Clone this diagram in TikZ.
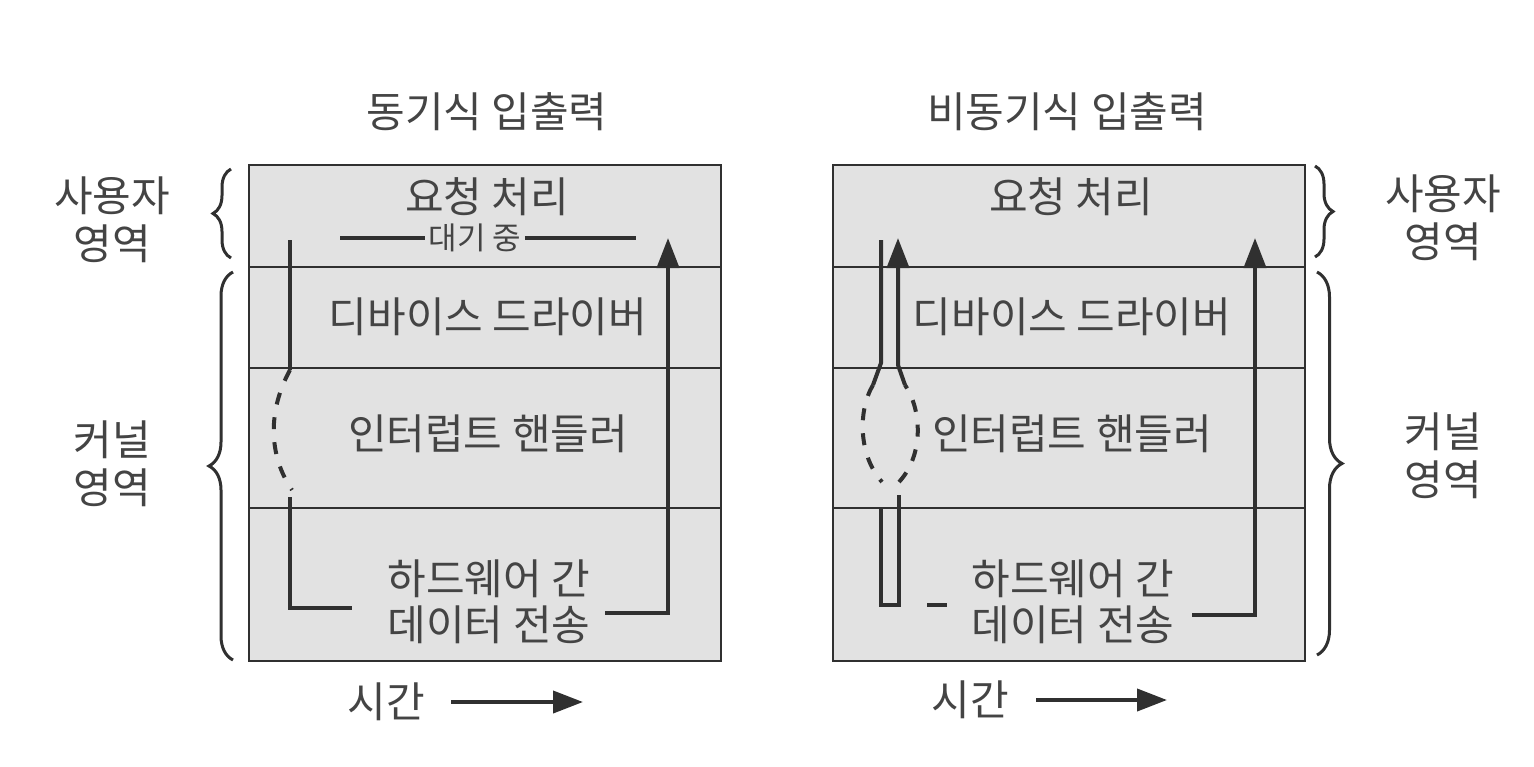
\documentclass[tikz,border=0pt]{standalone}
\usepackage{fontspec}
\setmainfont{Noto Sans CJK KR}
\usetikzlibrary{arrows.meta,positioning,decorations.pathreplacing}
\definecolor{layerfill}{HTML}{E2E2E2}
\definecolor{inkgray}{HTML}{303030}
\definecolor{textgray}{HTML}{444444}

\tikzset{
  flow/.style={line width=4pt,draw=inkgray},
  flowdash/.style={flow,dash pattern=on 12pt off 13pt},
  bigtip/.style={-{Triangle[length=30pt,width=22pt]}},
  regionbrace/.style={decorate,decoration={brace,amplitude=#1},line width=3pt,draw=inkgray},
  layertxt/.style={font=\fontsize{42}{48}\selectfont,text=textgray},
  smalltxt/.style={font=\fontsize{31}{32}\selectfont,text=textgray},
}

\begin{document}
\begin{tikzpicture}[x=1pt,y=-1pt]
  \useasboundingbox (0,0) rectangle (1534,766);

  % the two stacks of layers
  \foreach \x/\n in {249/s,833/a} {
    \draw[fill=layerfill,draw=inkgray,line width=2pt] (\x,165) rectangle (\x+472,661);
    \foreach \y in {267,368,508}
      \draw[inkgray,line width=2pt] (\x,\y) -- (\x+472,\y);
    \node[layertxt] (req\n) at (\x+238,197) {요청 처리};
    \node[layertxt] (drv\n) at (\x+239,317) {디바이스 드라이버};
    \node[layertxt] (isr\n) at (\x+239,434) {인터럽트 핸들러};
    \node[layertxt,align=center] (hw\n) at (\x+240,602) {하드웨어 간\\[-2pt]데이터 전송};
  }
  \node[layertxt] (titles) at (487,112) {동기식 입출력};
  \node[layertxt] (titlea) at (1067,112) {비동기식 입출력};

  % region labels
  \node[layertxt,align=center] (userl) at (112,220) {사용자\\영역};
  \node[layertxt,align=center] (kernl) at (112,464) {커널\\영역};
  \node[layertxt,align=center] (userr) at (1443,218) {사용자\\영역};
  \node[layertxt,align=center] (kernr) at (1443,456) {커널\\영역};
  \draw[regionbrace=18pt] (231,258) -- (231,169);
  \draw[regionbrace=24pt] (233,660) -- (233,272);
  \draw[regionbrace=18pt] (1315,166) -- (1315,257);
  \draw[regionbrace=25pt] (1317,272) -- (1317,655);

  % synchronous: waiting
  \node[smalltxt] (wait) at (475,238) {대기 중};
  \coordinate (waitl) at (340,238);
  \coordinate (waitr) at (636,238);
  \draw[flow] (waitl) -- (wait.west);
  \draw[flow] (wait.east) -- (waitr);
  \draw[flow] (290,240) -- (290,370);
  \draw[flowdash] (290,370) .. controls (268,410) and (268,455) .. (292,490);
  \draw[flow] (290,497) -- (290,608) -- (352,608);
  \draw[flow,bigtip] (605,613) -- (668,613) -- (668,238);

  % asynchronous: returns at once
  \draw[flow] (881,240) -- (881,363) -- (873,385);
  \draw[flowdash] (873,385) .. controls (858,410) and (858,455) .. (882,482);
  \draw[flow] (881,508) -- (881,605) -- (899,605) -- (899,495);
  \draw[flowdash] (899,482) .. controls (924,455) and (922,410) .. (905,385);
  \draw[flow,bigtip] (905,385) -- (898,365) -- (898,238);
  \draw[flow] (927,605) -- (947,605);
  \draw[flow,bigtip] (1192,615) -- (1255,615) -- (1255,238);

  % time axis
  \node[layertxt] (times) at (386,702) {시간};
  \node[layertxt] (timea) at (970,700) {시간};
  \coordinate (timese) at (583,702);
  \coordinate (timeae) at (1167,700);
  \draw[flow,bigtip] ([xshift=23pt]times.east) -- (timese);
  \draw[flow,bigtip] ([xshift=24pt]timea.east) -- (timeae);
\end{tikzpicture}
\end{document}
